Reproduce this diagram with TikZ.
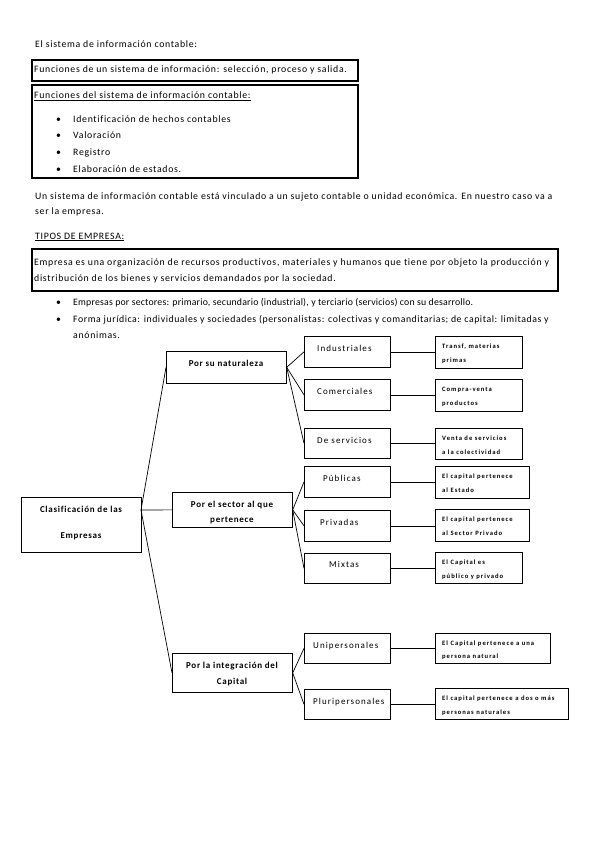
\documentclass[tikz,border=0pt]{standalone}
\usepackage{fontspec}
\setmainfont{Carlito}[Ligatures=NoCommon]
\begin{document}
\begin{tikzpicture}[x=1pt,y=-1pt,
  every node/.style={inner sep=0pt},
  txt/.style={anchor=base west, font=\fontsize{9.8}{11}\selectfont\addfontfeature{LetterSpace=7}},
  txttight/.style={anchor=base west, font=\fontsize{9.8}{11}\selectfont\addfontfeature{LetterSpace=#1}},
  frame/.style={draw, line width=1.6pt, anchor=north west},
  box/.style={draw, line width=0.7pt, anchor=north west},
  lvone/.style={anchor=base, font=\bfseries\fontsize{9}{10}\selectfont\addfontfeature{LetterSpace=8}},
  lvtwo/.style={anchor=base west, font=\fontsize{9}{10}\selectfont\addfontfeature{LetterSpace=12}},
  lvthree/.style={anchor=base west, font=\bfseries\fontsize{6.6}{8}\selectfont\addfontfeature{LetterSpace=15}},
  conn/.style={line width=0.7pt}
]
\useasboundingbox[fill=white] (0,0) rectangle (599,848);

% ---- text part ----
\node[txt] (t1) at (35,48) {El sistema de información contable:};
\node[frame, minimum width=326pt, minimum height=21pt] (f1) at (31,59) {};
\node[txt] (t2) at (34,73) {Funciones de un sistema de información: selección, proceso y salida.};
\node[frame, minimum width=326pt, minimum height=93pt] (f2) at (31,84) {};
\node[txt] (t3) at (34,99) {\underline{Funciones del sistema de información contable:}};
\node[txt] (b1) at (56,123) {•};
\node[txt] (b1t) at (73,123) {Identificación de hechos contables};
\node[txt] (b2) at (56,139) {•};
\node[txt] (b2t) at (73,139) {Valoración};
\node[txt] (b3) at (56,155) {•};
\node[txt] (b3t) at (73,155) {Registro};
\node[txt] (b4) at (56,172) {•};
\node[txt] (b4t) at (73,172) {Elaboración de estados.};
\node[txt] (p1) at (35,199) {Un sistema de información contable está vinculado a un sujeto contable o unidad económica. En nuestro caso va a};
\node[txt] (p2) at (35,214) {ser la empresa.};
\node[txt] (tip) at (35,239) {\underline{TIPOS DE EMPRESA:}};
\node[frame, minimum width=526pt, minimum height=42pt] (f3) at (31,248) {};
\node[txt] (e1) at (34,265) {Empresa es una organización de recursos productivos, materiales y humanos que tiene por objeto la producción y};
\node[txt] (e2) at (34,281) {distribución de los bienes y servicios demandados por la sociedad.};
\node[txt] (c1) at (56,305) {•};
\node[txttight=2] (c1t) at (73,305) {Empresas por sectores: primario, secundario (industrial), y terciario (servicios) con su desarrollo.};
\node[txt] (c2) at (56,322) {•};
\node[txttight=5.7] (c2t) at (73,322) {Forma jurídica: individuales y sociedades (personalistas: colectivas y comanditarias; de capital: limitadas y};
\node[txt] (c3t) at (73,338) {anónimas.};

% ---- diagram ----
\node[box, minimum width=120pt, minimum height=55pt] (root) at (21,497) {};
\node[lvone] (roott1) at (81,512) {Clasificación de las};
\node[lvone] (roott2) at (81,538) {Empresas};

\node[box, minimum width=120pt, minimum height=32pt] (nat) at (166,351) {};
\node[lvone] (natt) at (226,366) {Por su naturaleza};
\node[box, minimum width=120pt, minimum height=35pt] (sec) at (172,492) {};
\node[lvone] (sect1) at (232,507) {Por el sector al que};
\node[lvone] (sect2) at (232,522) {pertenece};
\node[box, minimum width=120pt, minimum height=39pt] (int) at (172,653) {};
\node[lvone] (intt1) at (232,668) {Por la integración del};
\node[lvone] (intt2) at (232,684) {Capital};

\coordinate (rootout) at (141,510);
\draw[conn] (rootout) -- (nat.west);
\draw[conn] (rootout) -- (sec.west);
\draw[conn] (rootout) -- (int.west);

% level two
\node[box, minimum width=86pt, minimum height=31pt] (ind) at (304,336) {};
\node[lvtwo] (indt) at (317,351) {Industriales};
\node[box, minimum width=86pt, minimum height=31pt] (com) at (304,379) {};
\node[lvtwo] (comt) at (317,394) {Comerciales};
\node[box, minimum width=86pt, minimum height=30pt] (ser) at (304,428) {};
\node[lvtwo] (sert) at (317,443) {De servicios};
\node[box, minimum width=86pt, minimum height=31pt] (pub) at (304,466) {};
\node[lvtwo] (pubt) at (323,481) {Públicas};
\node[box, minimum width=86pt, minimum height=31pt] (pri) at (304,510) {};
\node[lvtwo] (prit) at (320,525) {Privadas};
\node[box, minimum width=86pt, minimum height=30pt] (mix) at (304,553) {};
\node[lvtwo] (mixt) at (329,567) {Mixtas};
\node[box, minimum width=86pt, minimum height=30pt] (uni) at (304,633) {};
\node[lvtwo] (unit) at (313,648) {Unipersonales};
\node[box, minimum width=86pt, minimum height=30pt] (plu) at (304,689) {};
\node[lvtwo] (plut) at (313,704) {Pluripersonales};

\draw[conn] (nat.east) -- (ind.west);
\draw[conn] (nat.east) -- (com.west);
\draw[conn] (nat.east) -- (ser.west);
\draw[conn] (sec.east) -- (pub.west);
\draw[conn] (sec.east) -- (pri.west);
\draw[conn] (sec.east) -- (mix.west);
\draw[conn] (int.east) -- (uni.west);
\draw[conn] (int.east) -- (plu.west);

% level three
\node[box, minimum width=87pt, minimum height=32pt] (dind) at (435,336) {};
\node[lvthree] (dind1) at (442,348) {Transf, materias};
\node[lvthree] (dind2) at (442,362) {primas};
\node[box, minimum width=87pt, minimum height=32pt] (dcom) at (435,379) {};
\node[lvthree] (dcom1) at (442,391) {Compra-venta};
\node[lvthree] (dcom2) at (442,405) {productos};
\node[box, minimum width=87pt, minimum height=31pt] (dser) at (435,428) {};
\node[lvthree] (dser1) at (442,440) {Venta de servicios};
\node[lvthree] (dser2) at (442,454) {a la colectividad};
\node[box, minimum width=94pt, minimum height=32pt] (dpub) at (435,466) {};
\node[lvthree] (dpub1) at (442,478) {El capital pertenece};
\node[lvthree] (dpub2) at (442,492) {al Estado};
\node[box, minimum width=94pt, minimum height=32pt] (dpri) at (435,509) {};
\node[lvthree] (dpri1) at (442,521) {El capital pertenece};
\node[lvthree] (dpri2) at (442,535) {al Sector Privado};
\node[box, minimum width=87pt, minimum height=31pt] (dmix) at (435,552) {};
\node[lvthree] (dmix1) at (442,564) {El Capital es};
\node[lvthree] (dmix2) at (442,578) {público y privado};
\node[box, minimum width=115pt, minimum height=30pt] (duni) at (435,633) {};
\node[lvthree] (duni1) at (442,645) {El Capital pertenece a una};
\node[lvthree] (duni2) at (442,658) {persona natural};
\node[box, minimum width=133pt, minimum height=31pt] (dplu) at (435,688) {};
\node[lvthree] (dplu1) at (442,700) {El capital pertenece a dos o más};
\node[lvthree] (dplu2) at (442,714) {personas naturales};

\draw[conn] (ind.east) -- (ind.east -| dind.west);
\draw[conn] (com.east) -- (com.east -| dcom.west);
\draw[conn] (ser.east) -- (ser.east -| dser.west);
\draw[conn] (pub.east) -- (pub.east -| dpub.west);
\draw[conn] (pri.east) -- (pri.east -| dpri.west);
\draw[conn] (mix.east) -- (mix.east -| dmix.west);
\draw[conn] (uni.east) -- (uni.east -| duni.west);
\draw[conn] (plu.east) -- (plu.east -| dplu.west);
\end{tikzpicture}
\end{document}
